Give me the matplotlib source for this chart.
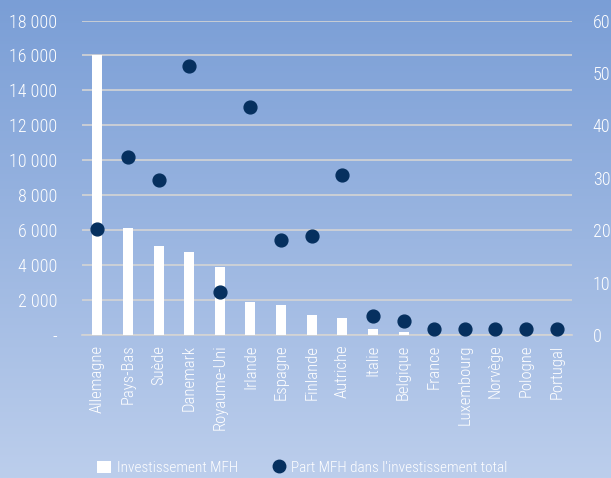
import numpy as np
import matplotlib
matplotlib.use("Agg")
import matplotlib.pyplot as plt
from matplotlib.lines import Line2D
from matplotlib.patches import Patch

plt.rcParams["font.family"] = ["Roboto Condensed", "DejaVu Sans"]
plt.rcParams["font.weight"] = "light"

countries = ["Allemagne", "Pays-Bas", "Suède", "Danemark", "Royaume-Uni", "Irlande",
             "Espagne", "Finlande", "Autriche", "Italie", "Belgique", "France",
             "Luxembourg", "Norvège", "Pologne", "Portugal"]
invest = [16000, 6100, 5080, 4760, 3900, 1880, 1720, 1140, 980, 340, 170, 0, 0, 0, 0, 0]
share = [20.2, 34.0, 29.6, 51.3, 8.2, 43.5, 18.1, 18.9, 30.5, 3.6, 2.7, 1.1, 1.1, 1.1, 1.1, 1.1]

yticks_left = [0, 2000, 4000, 6000, 8000, 10000, 12000, 14000, 16000, 18000]
ylabels_left = ["-", "2 000", "4 000", "6 000", "8 000", "10 000", "12 000",
                "14 000", "16 000", "18 000"]
yticks_right = [0, 10, 20, 30, 40, 50, 60]

W, H = 611, 478
fig = plt.figure(figsize=(W / 100, H / 100), dpi=100)

# background gradient
bg = fig.add_axes([0, 0, 1, 1])
top = np.array([122, 158, 214]) / 255
bot = np.array([188, 206, 236]) / 255
t = np.linspace(0, 1, 256)[:, None]
grad = top * (1 - t) + bot * t
bg.imshow(np.repeat(grad[:, None, :], 2, axis=1), aspect="auto", extent=[0, 1, 0, 1])
bg.axis("off")

ax = fig.add_axes([82 / W, 1 - 335 / H, 490 / W, (335 - 20.5) / H])
ax.patch.set_alpha(0)
x = np.arange(len(countries))
ax.bar(x, invest, width=0.33, color="white", zorder=3)
ax.set_ylim(0, 18000)
ax.set_xlim(-0.5, len(countries) - 0.5)
ax.set_yticks(yticks_left)
ax.set_yticklabels(ylabels_left)
ax.yaxis.grid(True, color="#d4d4d4", linewidth=1.2, zorder=0)
ax.set_axisbelow(True)
for s in ["top", "right", "left"]:
    ax.spines[s].set_visible(False)
ax.spines["bottom"].set_color("#d4d4d4")
ax.spines["bottom"].set_linewidth(1.2)
ax.tick_params(axis="y", length=0, pad=18, labelcolor="white", labelsize=13)
ax.set_xticks(x)
ax.set_xticklabels(countries, rotation=90, color="white", fontsize=12)
ax.tick_params(axis="x", length=0, pad=7)

ax2 = ax.twinx()
ax2.scatter(x, share, s=85, color="#06305f", zorder=5, clip_on=False)
ax2.set_ylim(0, 60)
ax2.set_yticks(yticks_right)
for s in ["top", "right", "left", "bottom"]:
    ax2.spines[s].set_visible(False)
ax2.tick_params(axis="y", length=0, pad=15, labelcolor="white", labelsize=13)

handles = [Patch(facecolor="white", edgecolor="none"),
           Line2D([], [], marker="o", linestyle="none", markersize=9,
                  markerfacecolor="#06305f", markeredgecolor="#06305f")]
fig.legend(handles, ["Investissement MFH", "Part MFH dans l'investissement total"],
           loc="center", bbox_to_anchor=(0.495, 0.021), ncol=2, frameon=False,
           labelcolor="white", fontsize=11, handlelength=0.9, handleheight=0.9,
           handletextpad=0.4, columnspacing=2.2)

fig.savefig("out.png", dpi=100)
